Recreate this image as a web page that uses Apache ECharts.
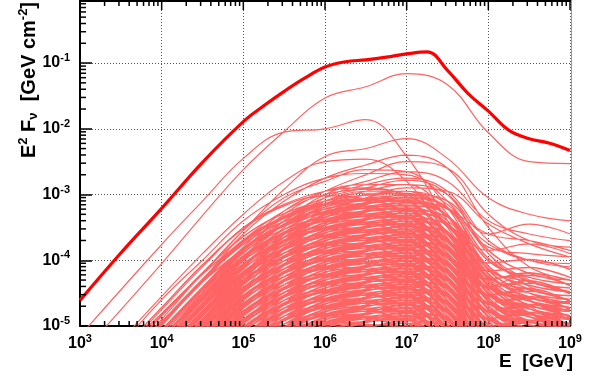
<!DOCTYPE html>
<html>
<head>
<meta charset="utf-8">
<script src="https://cdn.jsdelivr.net/npm/echarts@6/dist/echarts.min.js"></script>
<style>
html, body { margin: 0; padding: 0; background: #fff; }
#chart { width: 597px; height: 379px; }
</style>
</head>
<body>
<div id="chart"></div>
<script>
// Energies [GeV] at which each source spectrum is sampled
const sourceEnergies = [1e3, 1e4, 3.162e4, 1e5, 3.162e5, 1e6, 3.162e6, 1e7, 3.162e7, 1e8, 3.162e8, 1e9];

// Brighter individual sources: log10(E^2 F_nu / GeV cm^-2) at sourceEnergies
const brightSources = [
  [-5.45, -4.05, -3.32, -2.62, -2.04, -1.53, -1.36, -1.16, -1.33, -2.06, -2.50, -2.53],
  [-5.15, -3.76, -3.10, -2.45, -2.05, -2.00, -1.86, -2.42, -3.40, -4.30, -4.70, -5.00],
  [-6.20, -4.85, -4.20, -3.55, -2.92, -2.42, -2.30, -2.15, -2.45, -3.05, -3.30, -3.40],
  [-5.90, -4.55, -3.90, -3.30, -2.80, -2.50, -2.46, -2.80, -3.60, -4.40, -4.80, -5.10],
  [-6.40, -5.00, -4.30, -3.60, -3.10, -2.75, -2.55, -2.40, -2.60, -3.50, -4.10, -4.30],
  [-6.60, -5.20, -4.50, -3.85, -3.30, -2.95, -2.70, -2.50, -2.60, -3.30, -3.70, -3.80],
  [-6.00, -4.60, -4.00, -3.40, -3.00, -2.75, -2.68, -2.70, -3.10, -3.90, -4.40, -4.60],
  [-6.30, -4.90, -4.20, -3.55, -3.05, -2.80, -2.62, -2.65, -3.20, -4.20, -4.60, -4.90],
  [-6.80, -5.30, -4.60, -3.95, -3.40, -3.00, -2.80, -2.65, -2.80, -3.40, -3.60, -3.70],
  [-7.00, -5.50, -4.80, -4.10, -3.50, -3.05, -2.85, -2.75, -2.95, -3.70, -4.00, -4.10],
  [-6.50, -5.10, -4.45, -3.80, -3.25, -2.95, -2.85, -2.85, -3.30, -4.30, -4.80, -5.10],
  [-7.20, -5.80, -5.10, -4.30, -3.60, -3.15, -2.95, -2.85, -3.00, -3.60, -3.45, -3.60],
  [-6.90, -5.40, -4.70, -4.00, -3.45, -3.10, -2.95, -2.95, -3.50, -4.60, -5.00, -5.30],
  [-6.60, -5.20, -4.50, -3.85, -3.35, -3.05, -2.90, -2.78, -3.00, -3.90, -4.30, -4.50],
  [-6.30, -4.95, -4.30, -3.70, -3.25, -3.00, -2.92, -3.00, -3.60, -4.60, -5.00, -5.20],
  [-7.40, -5.95, -5.20, -4.45, -3.80, -3.30, -3.05, -2.90, -2.95, -3.45, -3.75, -3.95],
  [-6.10, -4.75, -4.10, -3.50, -3.15, -2.95, -2.90, -3.05, -3.70, -4.40, -4.20, -4.30],
  [-7.00, -5.60, -4.90, -4.20, -3.65, -3.25, -3.05, -2.95, -3.15, -3.80, -3.90, -3.95],
  [-6.70, -5.30, -4.60, -3.95, -3.45, -3.15, -3.00, -2.95, -3.20, -3.60, -3.70, -3.85],
  [-6.50, -5.10, -4.45, -3.85, -3.40, -3.10, -2.98, -3.00, -3.40, -3.85, -3.75, -3.90],
  [-7.10, -5.70, -5.00, -4.30, -3.75, -3.35, -3.15, -3.05, -3.20, -3.75, -4.00, -4.05]
];

// Fainter sources, same sampling
const faintSources = [
  [-6.38, -4.98, -4.33, -3.73, -3.33, -3.10, -3.01, -2.98, -3.33, -4.13, -4.33, -4.48],
  [-6.90, -5.50, -4.80, -4.10, -3.60, -3.30, -3.12, -3.00, -3.10, -3.85, -4.20, -4.30],
  [-6.02, -4.72, -4.07, -3.52, -3.17, -3.02, -3.07, -3.27, -3.77, -4.42, -4.62, -4.77],
  [-6.54, -5.14, -4.49, -3.89, -3.46, -3.19, -3.09, -3.04, -3.49, -4.04, -3.99, -4.14],
  [-6.36, -4.96, -4.31, -3.71, -3.34, -3.14, -3.06, -3.11, -3.66, -4.51, -4.81, -5.01],
  [-6.68, -5.28, -4.58, -3.98, -3.53, -3.26, -3.14, -3.08, -3.33, -4.38, -4.58, -4.63],
  [-6.50, -5.10, -4.45, -3.85, -3.45, -3.22, -3.13, -3.10, -3.45, -4.25, -4.45, -4.60],
  [-7.02, -5.62, -4.92, -4.22, -3.72, -3.42, -3.24, -3.12, -3.22, -3.97, -4.32, -4.42],
  [-6.14, -4.84, -4.19, -3.64, -3.29, -3.14, -3.19, -3.39, -3.89, -4.54, -4.74, -4.89],
  [-6.66, -5.26, -4.61, -4.01, -3.58, -3.31, -3.21, -3.16, -3.61, -4.16, -4.11, -4.26],
  [-6.48, -5.08, -4.43, -3.83, -3.46, -3.26, -3.18, -3.23, -3.78, -4.63, -4.93, -5.13],
  [-6.80, -5.40, -4.70, -4.10, -3.65, -3.38, -3.26, -3.20, -3.45, -4.50, -4.70, -4.75],
  [-6.62, -5.22, -4.57, -3.97, -3.57, -3.34, -3.25, -3.22, -3.57, -4.37, -4.57, -4.72],
  [-7.14, -5.74, -5.04, -4.34, -3.84, -3.54, -3.36, -3.24, -3.34, -4.09, -4.44, -4.54],
  [-6.26, -4.96, -4.31, -3.76, -3.41, -3.26, -3.31, -3.51, -4.01, -4.66, -4.86, -5.01],
  [-6.78, -5.38, -4.73, -4.13, -3.70, -3.43, -3.33, -3.28, -3.73, -4.28, -4.23, -4.38],
  [-6.60, -5.20, -4.55, -3.95, -3.58, -3.38, -3.30, -3.35, -3.90, -4.75, -5.05, -5.25],
  [-6.92, -5.52, -4.82, -4.22, -3.77, -3.50, -3.38, -3.32, -3.57, -4.62, -4.82, -4.87],
  [-6.74, -5.34, -4.69, -4.09, -3.69, -3.46, -3.37, -3.34, -3.69, -4.49, -4.69, -4.84],
  [-7.26, -5.86, -5.16, -4.46, -3.96, -3.66, -3.48, -3.36, -3.46, -4.21, -4.56, -4.66],
  [-6.38, -5.08, -4.43, -3.88, -3.53, -3.38, -3.43, -3.63, -4.13, -4.78, -4.98, -5.13],
  [-6.90, -5.50, -4.85, -4.25, -3.82, -3.55, -3.45, -3.40, -3.85, -4.40, -4.35, -4.50],
  [-6.72, -5.32, -4.67, -4.07, -3.70, -3.50, -3.42, -3.47, -4.02, -4.87, -5.17, -5.37],
  [-7.04, -5.64, -4.94, -4.34, -3.89, -3.62, -3.50, -3.44, -3.69, -4.74, -4.94, -4.99],
  [-6.86, -5.46, -4.81, -4.21, -3.81, -3.58, -3.49, -3.46, -3.81, -4.61, -4.81, -4.96],
  [-7.38, -5.98, -5.28, -4.58, -4.08, -3.78, -3.60, -3.48, -3.58, -4.33, -4.68, -4.78],
  [-6.50, -5.20, -4.55, -4.00, -3.65, -3.50, -3.55, -3.75, -4.25, -4.90, -5.10, -5.25],
  [-7.02, -5.62, -4.97, -4.37, -3.94, -3.67, -3.57, -3.52, -3.97, -4.52, -4.47, -4.62],
  [-6.84, -5.44, -4.79, -4.19, -3.82, -3.62, -3.54, -3.59, -4.14, -4.99, -5.29, -5.49],
  [-7.16, -5.76, -5.06, -4.46, -4.01, -3.74, -3.62, -3.56, -3.81, -4.86, -5.06, -5.11],
  [-6.98, -5.58, -4.93, -4.33, -3.93, -3.70, -3.61, -3.58, -3.93, -4.73, -4.93, -5.08],
  [-7.50, -6.10, -5.40, -4.70, -4.20, -3.90, -3.72, -3.60, -3.70, -4.45, -4.80, -4.90],
  [-6.62, -5.32, -4.67, -4.12, -3.77, -3.62, -3.67, -3.87, -4.37, -5.02, -5.22, -5.37],
  [-7.14, -5.74, -5.09, -4.49, -4.06, -3.79, -3.69, -3.64, -4.09, -4.64, -4.59, -4.74],
  [-6.96, -5.56, -4.91, -4.31, -3.94, -3.74, -3.66, -3.71, -4.26, -5.11, -5.41, -5.61],
  [-7.28, -5.88, -5.18, -4.58, -4.13, -3.86, -3.74, -3.68, -3.93, -4.98, -5.18, -5.23],
  [-7.10, -5.70, -5.05, -4.45, -4.05, -3.82, -3.73, -3.70, -4.05, -4.85, -5.05, -5.20],
  [-7.62, -6.22, -5.52, -4.82, -4.32, -4.02, -3.84, -3.72, -3.82, -4.57, -4.92, -5.02],
  [-6.74, -5.44, -4.79, -4.24, -3.89, -3.74, -3.79, -3.99, -4.49, -5.14, -5.34, -5.49],
  [-7.26, -5.86, -5.21, -4.61, -4.18, -3.91, -3.81, -3.76, -4.21, -4.76, -4.71, -4.86],
  [-7.08, -5.68, -5.03, -4.43, -4.06, -3.86, -3.78, -3.83, -4.38, -5.23, -5.53, -5.73],
  [-7.40, -6.00, -5.30, -4.70, -4.25, -3.98, -3.86, -3.80, -4.05, -5.10, -5.30, -5.35],
  [-7.22, -5.82, -5.17, -4.57, -4.17, -3.94, -3.85, -3.82, -4.17, -4.97, -5.17, -5.32],
  [-7.74, -6.34, -5.64, -4.94, -4.44, -4.14, -3.96, -3.84, -3.94, -4.69, -5.04, -5.14],
  [-6.86, -5.56, -4.91, -4.36, -4.01, -3.86, -3.91, -4.11, -4.61, -5.26, -5.46, -5.61],
  [-7.38, -5.98, -5.33, -4.73, -4.30, -4.03, -3.93, -3.88, -4.33, -4.88, -4.83, -4.98],
  [-7.20, -5.80, -5.15, -4.55, -4.18, -3.98, -3.90, -3.95, -4.50, -5.35, -5.65, -5.85],
  [-7.52, -6.12, -5.42, -4.82, -4.37, -4.10, -3.98, -3.92, -4.17, -5.22, -5.42, -5.47],
  [-7.34, -5.94, -5.29, -4.69, -4.29, -4.06, -3.97, -3.94, -4.29, -5.09, -5.29, -5.44],
  [-7.86, -6.46, -5.76, -5.06, -4.56, -4.26, -4.08, -3.96, -4.06, -4.81, -5.16, -5.26],
  [-6.98, -5.68, -5.03, -4.48, -4.13, -3.98, -4.03, -4.23, -4.73, -5.38, -5.58, -5.73],
  [-7.50, -6.10, -5.45, -4.85, -4.42, -4.15, -4.05, -4.00, -4.45, -5.00, -4.95, -5.10],
  [-7.32, -5.92, -5.27, -4.67, -4.30, -4.10, -4.02, -4.07, -4.62, -5.47, -5.77, -5.97],
  [-7.64, -6.24, -5.54, -4.94, -4.49, -4.22, -4.10, -4.04, -4.29, -5.34, -5.54, -5.59],
  [-7.46, -6.06, -5.41, -4.81, -4.41, -4.18, -4.09, -4.06, -4.41, -5.21, -5.41, -5.56],
  [-7.98, -6.58, -5.88, -5.18, -4.68, -4.38, -4.20, -4.08, -4.18, -4.93, -5.28, -5.38],
  [-7.10, -5.80, -5.15, -4.60, -4.25, -4.10, -4.15, -4.35, -4.85, -5.50, -5.70, -5.85],
  [-7.62, -6.22, -5.57, -4.97, -4.54, -4.27, -4.17, -4.12, -4.57, -5.12, -5.07, -5.22],
  [-7.44, -6.04, -5.39, -4.79, -4.42, -4.22, -4.14, -4.19, -4.74, -5.59, -5.89, -6.09],
  [-7.76, -6.36, -5.66, -5.06, -4.61, -4.34, -4.22, -4.16, -4.41, -5.46, -5.66, -5.71],
  [-7.58, -6.18, -5.53, -4.93, -4.53, -4.30, -4.21, -4.18, -4.53, -5.33, -5.53, -5.68],
  [-8.10, -6.70, -6.00, -5.30, -4.80, -4.50, -4.32, -4.20, -4.30, -5.05, -5.40, -5.50],
  [-7.22, -5.92, -5.27, -4.72, -4.37, -4.22, -4.27, -4.47, -4.97, -5.62, -5.82, -5.97],
  [-7.74, -6.34, -5.69, -5.09, -4.66, -4.39, -4.29, -4.24, -4.69, -5.24, -5.19, -5.34],
  [-7.56, -6.16, -5.51, -4.91, -4.54, -4.34, -4.26, -4.31, -4.86, -5.71, -6.01, -6.21],
  [-7.88, -6.48, -5.78, -5.18, -4.73, -4.46, -4.34, -4.28, -4.53, -5.58, -5.78, -5.83],
  [-7.70, -6.30, -5.65, -5.05, -4.65, -4.42, -4.33, -4.30, -4.65, -5.45, -5.65, -5.80],
  [-8.22, -6.82, -6.12, -5.42, -4.92, -4.62, -4.44, -4.32, -4.42, -5.17, -5.52, -5.62],
  [-7.34, -6.04, -5.39, -4.84, -4.49, -4.34, -4.39, -4.59, -5.09, -5.74, -5.94, -6.09],
  [-7.86, -6.46, -5.81, -5.21, -4.78, -4.51, -4.41, -4.36, -4.81, -5.36, -5.31, -5.46],
  [-7.68, -6.28, -5.63, -5.03, -4.66, -4.46, -4.38, -4.43, -4.98, -5.83, -6.13, -6.33],
  [-8.00, -6.60, -5.90, -5.30, -4.85, -4.58, -4.46, -4.40, -4.65, -5.70, -5.90, -5.95],
  [-7.82, -6.42, -5.77, -5.17, -4.77, -4.54, -4.45, -4.42, -4.77, -5.57, -5.77, -5.92],
  [-8.34, -6.94, -6.24, -5.54, -5.04, -4.74, -4.56, -4.44, -4.54, -5.29, -5.64, -5.74],
  [-7.46, -6.16, -5.51, -4.96, -4.61, -4.46, -4.51, -4.71, -5.21, -5.86, -6.06, -6.21],
  [-7.98, -6.58, -5.93, -5.33, -4.90, -4.63, -4.53, -4.48, -4.93, -5.48, -5.43, -5.58],
  [-7.80, -6.40, -5.75, -5.15, -4.78, -4.58, -4.50, -4.55, -5.10, -5.95, -6.25, -6.45],
  [-8.12, -6.72, -6.02, -5.42, -4.97, -4.70, -4.58, -4.52, -4.77, -5.82, -6.02, -6.07],
  [-7.94, -6.54, -5.89, -5.29, -4.89, -4.66, -4.57, -4.54, -4.89, -5.69, -5.89, -6.04],
  [-8.46, -7.06, -6.36, -5.66, -5.16, -4.86, -4.68, -4.56, -4.66, -5.41, -5.76, -5.86],
  [-7.58, -6.28, -5.63, -5.08, -4.73, -4.58, -4.63, -4.83, -5.33, -5.98, -6.18, -6.33],
  [-8.10, -6.70, -6.05, -5.45, -5.02, -4.75, -4.65, -4.60, -5.05, -5.60, -5.55, -5.70],
  [-7.92, -6.52, -5.87, -5.27, -4.90, -4.70, -4.62, -4.67, -5.22, -6.07, -6.37, -6.57],
  [-8.24, -6.84, -6.14, -5.54, -5.09, -4.82, -4.70, -4.64, -4.89, -5.94, -6.14, -6.19],
  [-8.06, -6.66, -6.01, -5.41, -5.01, -4.78, -4.69, -4.66, -5.01, -5.81, -6.01, -6.16],
  [-8.58, -7.18, -6.48, -5.78, -5.28, -4.98, -4.80, -4.68, -4.78, -5.53, -5.88, -5.98],
  [-7.70, -6.40, -5.75, -5.20, -4.85, -4.70, -4.75, -4.95, -5.45, -6.10, -6.30, -6.45],
  [-8.22, -6.82, -6.17, -5.57, -5.14, -4.87, -4.77, -4.72, -5.17, -5.72, -5.67, -5.82],
  [-8.04, -6.64, -5.99, -5.39, -5.02, -4.82, -4.74, -4.79, -5.34, -6.19, -6.49, -6.69],
  [-8.36, -6.96, -6.26, -5.66, -5.21, -4.94, -4.82, -4.76, -5.01, -6.06, -6.26, -6.31],
  [-8.18, -6.78, -6.13, -5.53, -5.13, -4.90, -4.81, -4.78, -5.13, -5.93, -6.13, -6.28],
  [-8.70, -7.30, -6.60, -5.90, -5.40, -5.10, -4.92, -4.80, -4.90, -5.65, -6.00, -6.10],
  [-7.82, -6.52, -5.87, -5.32, -4.97, -4.82, -4.87, -5.07, -5.57, -6.22, -6.42, -6.57],
  [-8.34, -6.94, -6.29, -5.69, -5.26, -4.99, -4.89, -4.84, -5.29, -5.84, -5.79, -5.94],
  [-8.16, -6.76, -6.11, -5.51, -5.14, -4.94, -4.86, -4.91, -5.46, -6.31, -6.61, -6.81],
  [-8.48, -7.08, -6.38, -5.78, -5.33, -5.06, -4.94, -4.88, -5.13, -6.18, -6.38, -6.43],
  [-8.30, -6.90, -6.25, -5.65, -5.25, -5.02, -4.93, -4.90, -5.25, -6.05, -6.25, -6.40],
  [-8.82, -7.42, -6.72, -6.02, -5.52, -5.22, -5.04, -4.92, -5.02, -5.77, -6.12, -6.22],
  [-7.94, -6.64, -5.99, -5.44, -5.09, -4.94, -4.99, -5.19, -5.69, -6.34, -6.54, -6.69],
  [-8.46, -7.06, -6.41, -5.81, -5.38, -5.11, -5.01, -4.96, -5.41, -5.96, -5.91, -6.06],
  [-8.28, -6.88, -6.23, -5.63, -5.26, -5.06, -4.98, -5.03, -5.58, -6.43, -6.73, -6.93],
  [-8.60, -7.20, -6.50, -5.90, -5.45, -5.18, -5.06, -5.00, -5.25, -6.30, -6.50, -6.55],
  [-8.43, -7.03, -6.38, -5.78, -5.38, -5.15, -5.06, -5.03, -5.38, -6.18, -6.38, -6.53],
  [-8.96, -7.56, -6.86, -6.16, -5.66, -5.36, -5.18, -5.06, -5.16, -5.91, -6.26, -6.36],
  [-8.09, -6.79, -6.14, -5.59, -5.24, -5.09, -5.14, -5.34, -5.84, -6.49, -6.69, -6.84],
  [-8.62, -7.22, -6.57, -5.97, -5.54, -5.27, -5.17, -5.12, -5.57, -6.12, -6.07, -6.22],
  [-8.46, -7.06, -6.41, -5.81, -5.44, -5.24, -5.16, -5.21, -5.76, -6.61, -6.91, -7.11],
  [-8.60, -7.20, -6.55, -5.95, -5.55, -5.32, -5.23, -5.20, -5.55, -6.35, -6.55, -6.70],
  [-6.01, -4.81, -4.21, -3.71, -3.36, -3.16, -3.06, -3.01, -3.21, -4.01, -4.26, -4.36],
  [-7.25, -5.75, -5.00, -4.25, -3.70, -3.35, -3.15, -3.05, -3.20, -4.15, -4.50, -4.65],
  [-6.29, -4.94, -4.29, -3.69, -3.34, -3.14, -3.09, -3.19, -3.69, -4.29, -4.19, -4.39],
  [-6.13, -4.93, -4.33, -3.83, -3.48, -3.28, -3.18, -3.13, -3.33, -4.13, -4.38, -4.48],
  [-7.37, -5.87, -5.12, -4.37, -3.82, -3.47, -3.27, -3.17, -3.32, -4.27, -4.62, -4.77],
  [-6.41, -5.06, -4.41, -3.81, -3.46, -3.26, -3.21, -3.31, -3.81, -4.41, -4.31, -4.51],
  [-6.25, -5.05, -4.45, -3.95, -3.60, -3.40, -3.30, -3.25, -3.45, -4.25, -4.50, -4.60],
  [-7.49, -5.99, -5.24, -4.49, -3.94, -3.59, -3.39, -3.29, -3.44, -4.39, -4.74, -4.89],
  [-6.53, -5.18, -4.53, -3.93, -3.58, -3.38, -3.33, -3.43, -3.93, -4.53, -4.43, -4.63],
  [-6.37, -5.17, -4.57, -4.07, -3.72, -3.52, -3.42, -3.37, -3.57, -4.37, -4.62, -4.72],
  [-7.61, -6.11, -5.36, -4.61, -4.06, -3.71, -3.51, -3.41, -3.56, -4.51, -4.86, -5.01],
  [-6.65, -5.30, -4.65, -4.05, -3.70, -3.50, -3.45, -3.55, -4.05, -4.65, -4.55, -4.75],
  [-6.49, -5.29, -4.69, -4.19, -3.84, -3.64, -3.54, -3.49, -3.69, -4.49, -4.74, -4.84],
  [-7.73, -6.23, -5.48, -4.73, -4.18, -3.83, -3.63, -3.53, -3.68, -4.63, -4.98, -5.13],
  [-6.77, -5.42, -4.77, -4.17, -3.82, -3.62, -3.57, -3.67, -4.17, -4.77, -4.67, -4.87],
  [-6.61, -5.41, -4.81, -4.31, -3.96, -3.76, -3.66, -3.61, -3.81, -4.61, -4.86, -4.96],
  [-7.85, -6.35, -5.60, -4.85, -4.30, -3.95, -3.75, -3.65, -3.80, -4.75, -5.10, -5.25],
  [-6.89, -5.54, -4.89, -4.29, -3.94, -3.74, -3.69, -3.79, -4.29, -4.89, -4.79, -4.99],
  [-6.73, -5.53, -4.93, -4.43, -4.08, -3.88, -3.78, -3.73, -3.93, -4.73, -4.98, -5.08],
  [-7.97, -6.47, -5.72, -4.97, -4.42, -4.07, -3.87, -3.77, -3.92, -4.87, -5.22, -5.37],
  [-7.01, -5.66, -5.01, -4.41, -4.06, -3.86, -3.81, -3.91, -4.41, -5.01, -4.91, -5.11],
  [-6.85, -5.65, -5.05, -4.55, -4.20, -4.00, -3.90, -3.85, -4.05, -4.85, -5.10, -5.20],
  [-8.09, -6.59, -5.84, -5.09, -4.54, -4.19, -3.99, -3.89, -4.04, -4.99, -5.34, -5.49],
  [-7.13, -5.78, -5.13, -4.53, -4.18, -3.98, -3.93, -4.03, -4.53, -5.13, -5.03, -5.23],
  [-6.97, -5.77, -5.17, -4.67, -4.32, -4.12, -4.02, -3.97, -4.17, -4.97, -5.22, -5.32],
  [-8.21, -6.71, -5.96, -5.21, -4.66, -4.31, -4.11, -4.01, -4.16, -5.11, -5.46, -5.61],
  [-7.25, -5.90, -5.25, -4.65, -4.30, -4.10, -4.05, -4.15, -4.65, -5.25, -5.15, -5.35],
  [-7.09, -5.89, -5.29, -4.79, -4.44, -4.24, -4.14, -4.09, -4.29, -5.09, -5.34, -5.44],
  [-8.33, -6.83, -6.08, -5.33, -4.78, -4.43, -4.23, -4.13, -4.28, -5.23, -5.58, -5.73],
  [-7.37, -6.02, -5.37, -4.77, -4.42, -4.22, -4.17, -4.27, -4.77, -5.37, -5.27, -5.47],
  [-7.21, -6.01, -5.41, -4.91, -4.56, -4.36, -4.26, -4.21, -4.41, -5.21, -5.46, -5.56],
  [-8.45, -6.95, -6.20, -5.45, -4.90, -4.55, -4.35, -4.25, -4.40, -5.35, -5.70, -5.85],
  [-7.49, -6.14, -5.49, -4.89, -4.54, -4.34, -4.29, -4.39, -4.89, -5.49, -5.39, -5.59],
  [-7.33, -6.13, -5.53, -5.03, -4.68, -4.48, -4.38, -4.33, -4.53, -5.33, -5.58, -5.68],
  [-8.57, -7.07, -6.32, -5.57, -5.02, -4.67, -4.47, -4.37, -4.52, -5.47, -5.82, -5.97],
  [-7.61, -6.26, -5.61, -5.01, -4.66, -4.46, -4.41, -4.51, -5.01, -5.61, -5.51, -5.71],
  [-7.45, -6.25, -5.65, -5.15, -4.80, -4.60, -4.50, -4.45, -4.65, -5.45, -5.70, -5.80],
  [-8.69, -7.19, -6.44, -5.69, -5.14, -4.79, -4.59, -4.49, -4.64, -5.59, -5.94, -6.09],
  [-7.73, -6.38, -5.73, -5.13, -4.78, -4.58, -4.53, -4.63, -5.13, -5.73, -5.63, -5.83],
  [-7.57, -6.37, -5.77, -5.27, -4.92, -4.72, -4.62, -4.57, -4.77, -5.57, -5.82, -5.92],
  [-8.81, -7.31, -6.56, -5.81, -5.26, -4.91, -4.71, -4.61, -4.76, -5.71, -6.06, -6.21],
  [-7.85, -6.50, -5.85, -5.25, -4.90, -4.70, -4.65, -4.75, -5.25, -5.85, -5.75, -5.95],
  [-7.69, -6.49, -5.89, -5.39, -5.04, -4.84, -4.74, -4.69, -4.89, -5.69, -5.94, -6.04],
  [-8.93, -7.43, -6.68, -5.93, -5.38, -5.03, -4.83, -4.73, -4.88, -5.83, -6.18, -6.33],
  [-7.97, -6.62, -5.97, -5.37, -5.02, -4.82, -4.77, -4.87, -5.37, -5.97, -5.87, -6.07],
  [-7.81, -6.61, -6.01, -5.51, -5.16, -4.96, -4.86, -4.81, -5.01, -5.81, -6.06, -6.16],
  [-9.05, -7.55, -6.80, -6.05, -5.50, -5.15, -4.95, -4.85, -5.00, -5.95, -6.30, -6.45],
  [-8.09, -6.74, -6.09, -5.49, -5.14, -4.94, -4.89, -4.99, -5.49, -6.09, -5.99, -6.19]
];

// Summed spectrum (thick curve), log10(E^2 F_nu)
const totalEnergies = [1e3, 3.162e3, 1e4, 3.162e4, 1e5, 1.778e5, 3.162e5, 5.623e5, 1e6, 1.778e6,
                       3.162e6, 5.623e6, 1e7, 1.778e7, 3.162e7, 5.623e7, 1e8, 1.778e8, 3.162e8, 5.623e8, 1e9];
const totalLogFlux = [-4.61, -3.89, -3.21, -2.51, -1.89, -1.65, -1.43, -1.23, -1.06, -0.98,
                      -0.95, -0.91, -0.86, -0.83, -1.11, -1.46, -1.73, -2.02, -2.15, -2.22, -2.33];

// Axis ranges and tick positions
const E_MIN = 1e3, E_MAX = 1e9, F_MIN = 1e-5, F_MAX = 0.88;
const majorTicksE = [1e3, 1e4, 1e5, 1e6, 1e7, 1e8, 1e9];
const minorTicksE = [
  2e3, 3e3, 4e3, 5e3, 6e3, 7e3, 8e3, 9e3, 2e4, 3e4, 4e4, 5e4, 6e4, 7e4, 8e4, 9e4,
  2e5, 3e5, 4e5, 5e5, 6e5, 7e5, 8e5, 9e5, 2e6, 3e6, 4e6, 5e6, 6e6, 7e6, 8e6, 9e6,
  2e7, 3e7, 4e7, 5e7, 6e7, 7e7, 8e7, 9e7, 2e8, 3e8, 4e8, 5e8, 6e8, 7e8, 8e8, 9e8
];
const majorTicksF = [1e-5, 1e-4, 1e-3, 1e-2, 1e-1];
const minorTicksF = [
  2e-5, 3e-5, 4e-5, 5e-5, 6e-5, 7e-5, 8e-5, 9e-5, 2e-4, 3e-4, 4e-4, 5e-4, 6e-4, 7e-4, 8e-4, 9e-4,
  2e-3, 3e-3, 4e-3, 5e-3, 6e-3, 7e-3, 8e-3, 9e-3, 2e-2, 3e-2, 4e-2, 5e-2, 6e-2, 7e-2, 8e-2, 9e-2,
  0.2, 0.3, 0.4, 0.5, 0.6, 0.7, 0.8
];

const FONT = '"Liberation Sans", Arial, Helvetica, sans-serif';
const powerRich = {
  b: { fontFamily: FONT, fontWeight: 'bold', fontSize: 16, color: '#000' },
  s: { fontFamily: FONT, fontWeight: 'bold', fontSize: 11, color: '#000', padding: [0, 0, 10, 0] }
};
const powerLabel = v => {
  const p = Math.log10(v);
  if (Math.abs(p - Math.round(p)) > 1e-6) return '';
  return '{b|10}{s|' + Math.round(p) + '}';
};

const toPoints = (energies, logs) => energies.map((e, i) => [e, Math.pow(10, logs[i])]);
// Many spectra in one line series, separated by gaps
const joinCurves = curves => {
  const out = [];
  curves.forEach(c => { toPoints(sourceEnergies, c).forEach(p => out.push(p)); out.push(['-', '-']); });
  return out;
};

const series = [
  {
    type: 'line', data: joinCurves(faintSources), symbol: 'none', connectNulls: false,
    smooth: 0.4, lineStyle: { color: '#ff6464', width: 1.5 }, silent: true, z: 2
  },
  {
    type: 'line', data: joinCurves(brightSources), symbol: 'none', connectNulls: false,
    smooth: 0.4, lineStyle: { color: '#ff6464', width: 1.2 }, silent: true, z: 3
  },
  {
    type: 'line', data: toPoints(totalEnergies, totalLogFlux), symbol: 'none',
    smooth: 0.4, lineStyle: { color: '#ff0000', width: 3.2 }, silent: true, z: 5
  }
];

const gridDots = { show: true, lineStyle: { color: '#555', width: 1, type: [1, 2] } };

const titles = [
  {
    type: 'text', x: 29, y: 80, rotation: Math.PI / 2,
    style: {
      text: '{t|E}{p|2}{t| F}{q|ν}{t|  [GeV cm}{p|-2}{t|]}',
      align: 'center', verticalAlign: 'middle',
      rich: {
        t: { fontFamily: FONT, fontWeight: 'bold', fontSize: 20, fill: '#000' },
        p: { fontFamily: FONT, fontWeight: 'bold', fontSize: 13, fill: '#000', padding: [0, 0, 11, 0] },
        q: { fontFamily: FONT, fontWeight: 'bold', fontSize: 13, fill: '#000', padding: [9, 0, 0, 0] }
      }
    }
  },
  {
    type: 'text', right: 24, top: 352,
    style: { text: 'E  [GeV]', fontFamily: FONT, fontWeight: 'bold', fontSize: 19, fill: '#000' }
  }
];

const option = {
  animation: false,
  backgroundColor: '#fff',
  grid: { left: 80, right: 27, top: 1, bottom: 53 },
  xAxis: {
    type: 'log', logBase: 10, min: E_MIN, max: E_MAX, position: 'bottom',
    axisLine: { show: true, onZero: false, lineStyle: { color: '#000', width: 2 } },
    axisTick: { show: true, inside: true, length: 9, lineStyle: { color: '#000', width: 1.5 } },
    axisLabel: { show: true, margin: 7, formatter: powerLabel, rich: powerRich },
    splitLine: gridDots
  },
  yAxis: {
    type: 'log', logBase: 10, min: F_MIN, max: F_MAX, position: 'left',
    axisLine: { show: true, onZero: false, lineStyle: { color: '#000', width: 2 } },
    axisTick: { show: true, inside: true, length: 12, lineStyle: { color: '#000', width: 1.5 } },
    axisLabel: { show: true, margin: 10, formatter: powerLabel, rich: powerRich, showMaxLabel: false },
    splitLine: gridDots
  },
  graphic: titles,
  series: series
};

const chart = echarts.init(document.getElementById('chart'), null, { renderer: 'canvas' });
chart.setOption(option);

// Frame edges and minor tick marks, placed through the axis scales
const px = v => chart.convertToPixel({ xAxisIndex: 0 }, v);
const py = v => chart.convertToPixel({ yAxisIndex: 0 }, v);
const seg = (x1, y1, x2, y2, color, w) => ({
  type: 'line', z: 100, silent: true,
  shape: { x1: x1, y1: y1, x2: x2, y2: y2 }, style: { stroke: color, lineWidth: w }
});
const yBottom = py(F_MIN), yTop = py(F_MAX), xLeft = px(E_MIN), xRight = px(E_MAX);
const decor = [
  seg(xLeft - 1, yTop, xRight + 1, yTop, '#000', 2),
  seg(xRight + 1.5, yTop - 1, xRight + 1.5, yBottom, '#999', 1)
];
majorTicksE.forEach(v => { const x = px(v); decor.push(seg(x, yTop, x, yTop + 9, '#000', 1.5)); });
minorTicksE.forEach(v => {
  const x = px(v);
  decor.push(seg(x, yBottom, x, yBottom - 5, '#000', 1.5), seg(x, yTop, x, yTop + 5, '#000', 1.5));
});
minorTicksF.forEach(v => { const y = py(v); decor.push(seg(xLeft, y, xLeft + 6, y, '#000', 1.5)); });
chart.setOption({ graphic: titles.concat(decor) });
</script>
</body>
</html>
